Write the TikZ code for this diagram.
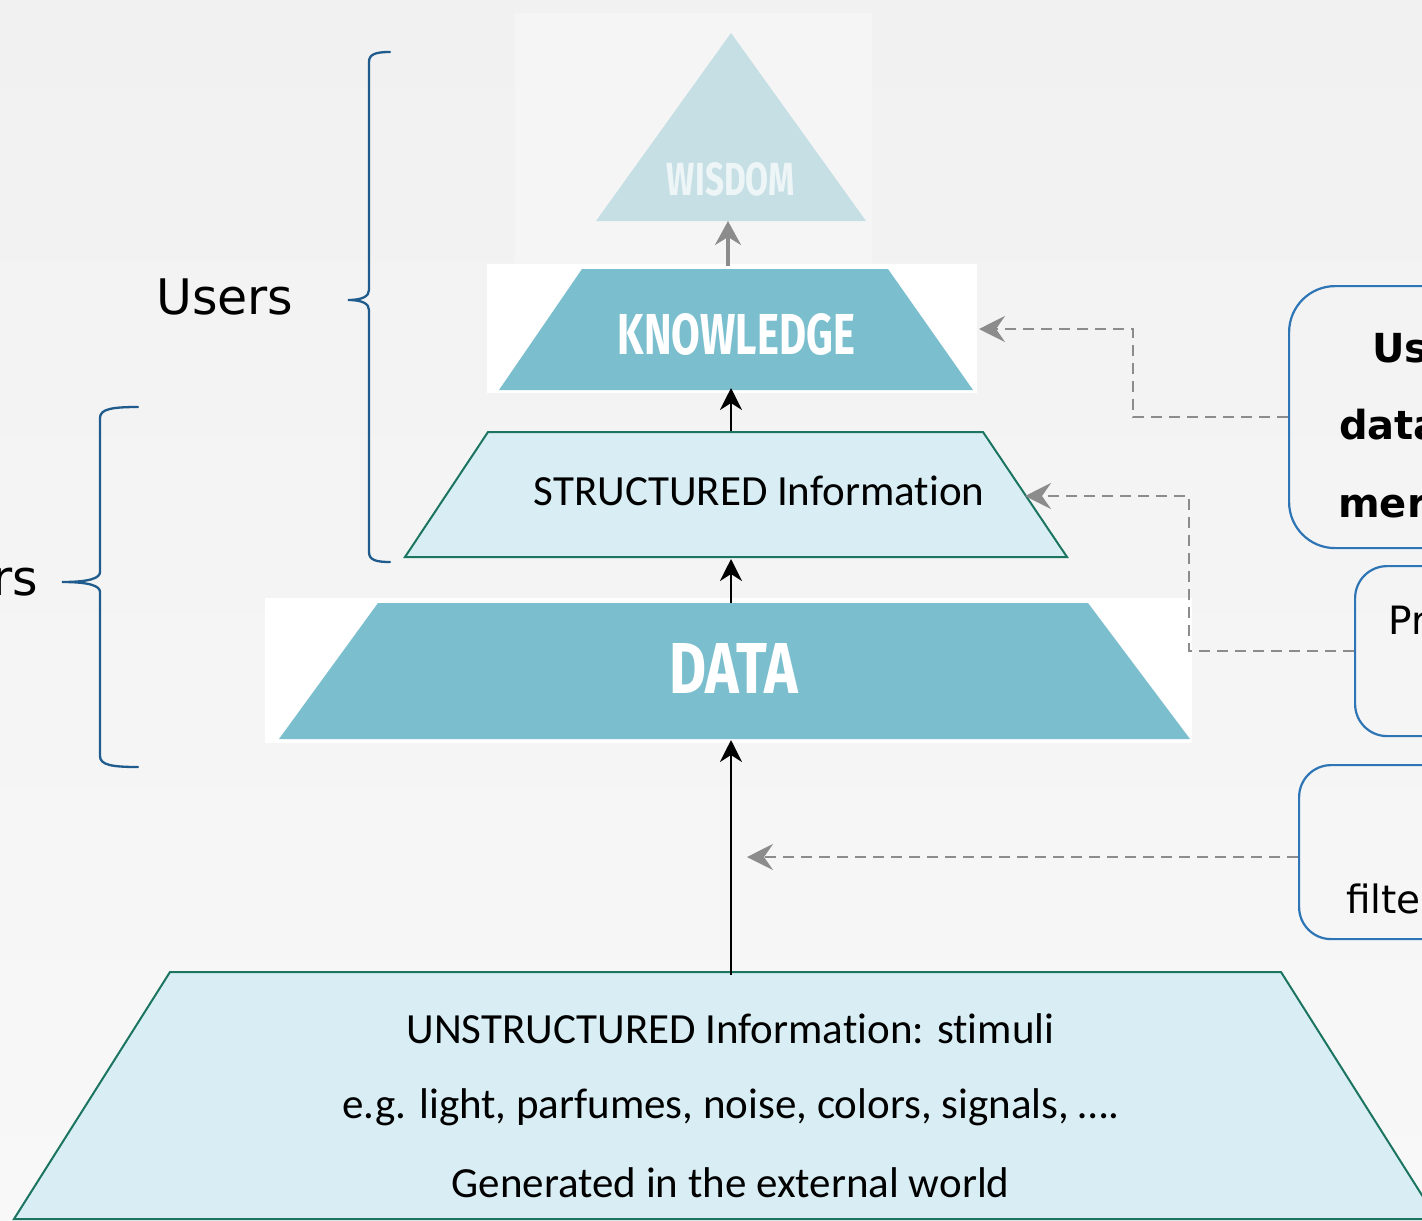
\documentclass[tikz,border=0pt]{standalone}
\usepackage{fontspec}
\setmainfont{Carlito}[Ligatures=NoCommon]
\newfontfamily\dvsans{DejaVu Sans}
\newfontfamily\headfont{Fira Sans}
\usetikzlibrary{arrows.meta}

\definecolor{bgtop}{HTML}{F1F1F1}
\definecolor{bgbot}{HTML}{F8F8F8}
\definecolor{wisfill}{HTML}{C5DFE5}
\definecolor{wistext}{HTML}{EDF5F7}
\definecolor{knowfill}{HTML}{7BBFCF}
\definecolor{infofill}{HTML}{D9EEF4}
\definecolor{infoline}{HTML}{1B7560}
\definecolor{bracecol}{HTML}{1F5B8C}
\definecolor{boxline}{HTML}{2E75B6}
\definecolor{dashgray}{HTML}{8C8C8C}
\definecolor{picbg}{HTML}{F5F5F5}

\tikzset{
  levelbox/.style={fill=infofill, draw=infoline, line width=2pt, line join=miter},
  bracepath/.style={draw=bracecol, line width=2.3pt, line cap=round},
  uparrow/.style={draw=black, line width=2.8pt, -{Stealth[length=22pt,width=22pt,inset=7pt]}},
  grayup/.style={draw=dashgray, line width=3.2pt, -{Stealth[length=24pt,width=26pt,inset=8pt]}},
  dashconn/.style={draw=dashgray, line width=2.6pt, dash pattern=on 11pt off 7pt,
    -{Stealth[length=26pt,width=26pt,inset=9pt]}},
  notebox/.style={draw=boxline, line width=2.2pt, inner sep=0pt, anchor=north west},
  bodytext/.style={font=\fontsize{43}{51}\selectfont, anchor=base, inner sep=0pt},
  sidetext/.style={font=\dvsans\fontsize{49}{58}\selectfont, anchor=base west, inner sep=0pt},
  notebold/.style={font=\dvsans\bfseries\fontsize{40}{48}\selectfont, anchor=base west, inner sep=0pt},
  noteplain/.style={font=\dvsans\fontsize{39}{47}\selectfont, anchor=base west, inner sep=0pt},
}

\begin{document}
\begin{tikzpicture}[x=1pt,y=-1pt]
\useasboundingbox (0,0) rectangle (1422,1221);
\shade[top color=bgtop, bottom color=bgbot] (0,0) rectangle (1422,1221);

% backdrop panels of the pyramid levels
\fill[picbg] (515,13) rectangle (872,265);
\fill[white] (487,264) rectangle (977,393);
\fill[white] (265,598) rectangle (1192,743);

% WISDOM
\fill[wisfill] (731,33) -- (866,221) -- (596,221) -- cycle;
\node[inner sep=0pt, anchor=base, text=wistext] (wisdom) at (731,195)
  {\resizebox{128pt}{33pt}{\headfont\bfseries WISDOM}};

% KNOWLEDGE
\fill[knowfill] (582,269) -- (888,269) -- (973,390) -- (499,390) -- cycle;
\node[inner sep=0pt, anchor=base, text=white] (knowledge) at (736.5,354)
  {\resizebox{237pt}{41pt}{\headfont\bfseries KNOWLEDGE}};

% STRUCTURED information
\path[levelbox] (488,432) -- (983,432) -- (1067,557) -- (405,557) -- cycle;
\node[bodytext] (structured) at (759,505) {STRUCTURED Information};

% DATA
\fill[knowfill] (378,603) -- (1088,603) -- (1190,739) -- (279,739) -- cycle;
\node[inner sep=0pt, anchor=base, text=white] (data) at (733.5,693)
  {\resizebox{129pt}{50pt}{\headfont\bfseries DATA}};

% UNSTRUCTURED information
\path[levelbox] (170,972) -- (1281,972) -- (1437,1219) -- (14,1219) -- cycle;
\node[bodytext] (unstr1) at (730.5,1043) {UNSTRUCTURED Information: stimuli};
\node[bodytext] (unstr2) at (731,1118) {e.g. light, parfumes, noise, colors, signals, \dots.};
\node[bodytext] (unstr3) at (730.5,1197) {Generated in the external world};

% anchor points of the level connectors
\coordinate (wisBase) at (728,221);
\coordinate (knowTop) at (728,266);
\coordinate (knowBase) at (731,388);
\coordinate (strTop) at (731,431);
\coordinate (strBase) at (731,559);
\coordinate (dataTop) at (731,603);
\coordinate (dataBase) at (731,740);
\coordinate (unstrTop) at (731,975);
\coordinate (knowSide) at (979,329);
\coordinate (strSide) at (1025,496);
\coordinate (stimPoint) at (747,857);

\draw[grayup] (knowTop) -- (wisBase);
\draw[uparrow] (strTop) -- (knowBase);
\draw[uparrow] (dataTop) -- (strBase);
\draw[uparrow] (unstrTop) -- (dataBase);

% braces and their labels
\draw[bracepath] (390,52) .. controls (376,52) and (369,54) .. (369,62)
  -- (369,290) .. controls (369,296) and (363,300) .. (348,300)
  .. controls (363,300) and (369,304) .. (369,310)
  -- (369,552) .. controls (369,560) and (376,562) .. (390,562);
\node[sidetext] (users) at (156,314) {Users};

\draw[bracepath] (138,407) .. controls (112,407) and (100,409) .. (100,418)
  -- (100,572) .. controls (100,578) and (90,582) .. (62,582)
  .. controls (90,582) and (100,586) .. (100,592)
  -- (100,756) .. controls (100,765) and (112,767) .. (138,767);
\node[sidetext, anchor=base east] (rs) at (38,595) {rs};

% note boxes on the right
\node[notebox, rounded corners=46pt, minimum width=220pt, minimum height=262pt] (note1) at (1288,285) {};
\node[notebox, rounded corners=32pt, minimum width=160pt, minimum height=170pt] (note2) at (1354,565) {};
\node[notebox, rounded corners=32pt, minimum width=200pt, minimum height=174pt] (note3) at (1298,764) {};

\node[notebold] (n1a) at (1372,362) {Us};
\node[notebold] (n1b) at (1339,439) {data};
\node[notebold] (n1c) at (1338,517) {mer};
\node[noteplain] (n2a) at (1388,634) {Pr};
\node[noteplain] (n3a) at (1346,913) {filte};

% dashed links from the notes
\draw[dashconn] (note1.west) -| (1133,329) -- (knowSide);
\draw[dashconn] (note2.west) -| (1189,496) -- (strSide);
\draw[dashconn] (stimPoint -| note3.west) -- (stimPoint);
\end{tikzpicture}
\end{document}
